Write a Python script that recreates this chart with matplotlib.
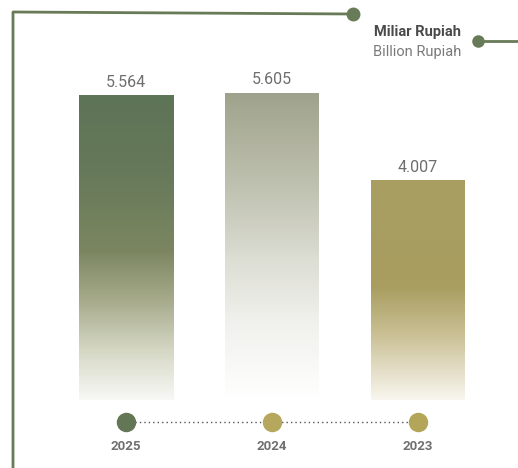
import numpy as np
import matplotlib
matplotlib.use("Agg")
import matplotlib.pyplot as plt
from matplotlib.colors import LinearSegmentedColormap

# data
years = ["2025", "2024", "2023"]
values = [5.564, 5.605, 4.007]
labels = ["5.564", "5.605", "4.007"]
dot_colors = ["#637656", "#b5a85c", "#b3a659"]

# gradient stops per bar (0 = bottom, 1 = top)
grad_stops = [
    [(0.0, "#f8f8f5"), (0.15, "#d8dac8"), (0.33, "#a6aa8a"), (0.49, "#7b8660"), (0.75, "#66795a"), (1.0, "#5e7456")],
    [(0.0, "#ffffff"), (0.26, "#f0f0ec"), (0.46, "#dcddd3"), (0.65, "#c4c6b6"), (1.0, "#9fa28b")],
    [(0.0, "#f8f6ef"), (0.14, "#e3ddc5"), (0.32, "#c6bc8e"), (0.52, "#a89d5f"), (1.0, "#a89f63")],
]

plt.rcParams['font.family'] = ['Roboto', 'DejaVu Sans']

W, H = 518, 468
fig = plt.figure(figsize=(W / 100, H / 100), dpi=100)

# decoration layer in pixel coords
deco = fig.add_axes([0, 0, 1, 1])
deco.set_xlim(0, W)
deco.set_ylim(H, 0)
deco.axis("off")
line_c = "#687b58"
deco.plot([13, 13, 353], [H, 12, 14], color=line_c, lw=2, solid_capstyle="butt")
deco.plot([353], [14], "o", color=line_c, ms=9)
deco.plot([478, W], [41, 41], color=line_c, lw=2)
deco.plot([478], [41], "o", color=line_c, ms=8)
deco.text(461, 32, "Miliar Rupiah", ha="right", va="center", fontsize=10.5,
          fontweight="bold", color="#4a4a4a")
deco.text(461, 52, "Billion Rupiah", ha="right", va="center", fontsize=10.5,
          color="#7a7a7a")

# bar layer: y=0 at px 400, 54.8 px per unit, x centres at 126 + 146*i
ppu = 54.8
ax = fig.add_axes([0, 0, 1, 1], zorder=2)
ax.patch.set_alpha(0)
ax.set_xlim(-126 / 146, (W - 126) / 146)
ax.set_ylim(-(H - 400) / ppu, 400 / ppu)
ax.axis("off")

x = np.arange(len(values))
bars = ax.bar(x, values, width=94 / 146, color="none", edgecolor="none")
for b, stops, v in zip(bars, grad_stops, values):
    cmap = LinearSegmentedColormap.from_list("g", stops)
    grad = np.linspace(0, 1, 256).reshape(-1, 1)
    x0 = b.get_x()
    im = ax.imshow(grad, cmap=cmap, origin="lower", aspect="auto",
                   extent=[x0, x0 + b.get_width(), 0, v], zorder=1)
    im.set_clip_path(b)

for xi, v, lab in zip(x, values, labels):
    ax.text(xi, v + 0.1, lab, ha="center", va="bottom", fontsize=11.5,
            color="#6e6e6e")

# timeline
y_dot = -22 / ppu
ax.plot(x, [y_dot] * len(x), color="#555555", lw=1, linestyle=(0, (1, 2.2)), zorder=1)
for xi, c in zip(x, dot_colors):
    ax.plot([xi], [y_dot], "o", color=c, ms=13, zorder=3, clip_on=False)
for xi, yr in zip(x, years):
    ax.text(xi, -47 / ppu, yr, ha="center", va="center", fontsize=9.5,
            fontweight="bold", color="#707070")

fig.savefig("out.png", dpi=100)
